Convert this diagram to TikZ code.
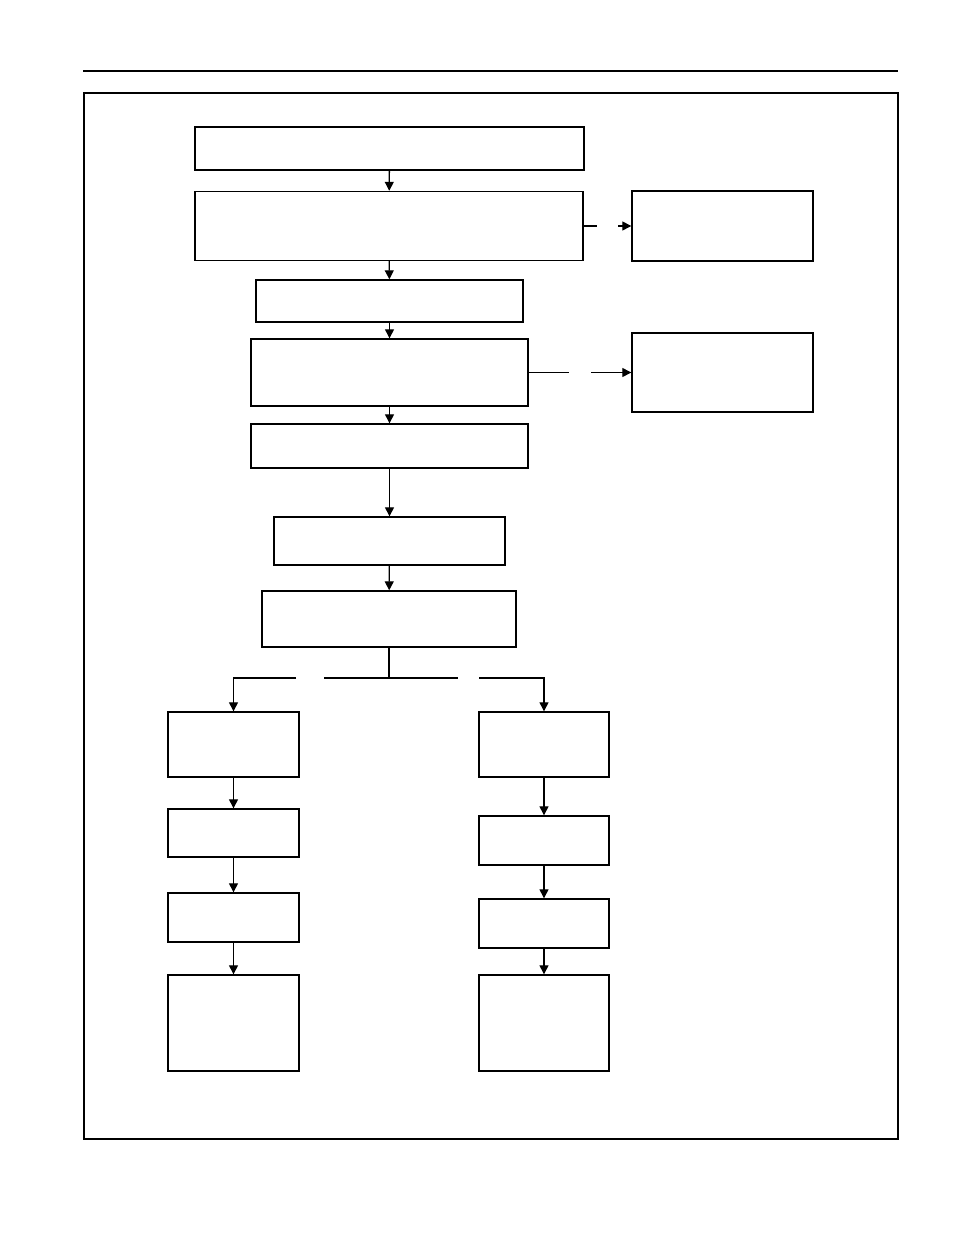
\documentclass[tikz,border=0pt]{standalone}
\usepackage{tikz}
\usetikzlibrary{arrows.meta}
\tikzset{
  box/.style  = {draw, line width=0.7pt, inner sep=0pt, fill=white},
  e/.style    = {-{Triangle[length=4.5pt,width=4.5pt]}, line width=0.65pt},
  ln/.style   = {line width=0.65pt}
}
\begin{document}
\begin{tikzpicture}[x=0.5pt, y=-0.5pt]
  \useasboundingbox (0,0) rectangle (954,1235);
  % page rule and frame
  \draw[line width=1.3pt] (83,71) -- (898,71);
  \draw[line width=1pt] (84,93) rectangle (898,1139);

  % main column
  \node[box, minimum width=194.5pt, minimum height=21.5pt] (start) at (389.5,148.5) {};
  \node[box, minimum width=194pt, minimum height=34.5pt] (check) at (389,226) {};
  \node[box, minimum width=133.5pt, minimum height=21pt] (prep) at (389.5,301) {};
  \node[box, minimum width=138.5pt, minimum height=33.5pt] (test) at (389.5,372.5) {};
  \node[box, minimum width=138.5pt, minimum height=22pt] (run) at (389.5,446) {};
  \node[box, minimum width=115.5pt, minimum height=24pt] (eval) at (389.5,541) {};
  \node[box, minimum width=127pt, minimum height=28pt] (split) at (389,619) {};

  % side boxes
  \node[box, minimum width=90.5pt, minimum height=35pt] (sideA) at (722.5,226) {};
  \node[box, minimum width=90.5pt, minimum height=39.5pt] (sideB) at (722.5,372.5) {};

  % left branch
  \node[box, minimum width=65.5pt, minimum height=32.5pt] (la) at (233.5,744.5) {};
  \node[box, minimum width=65.5pt, minimum height=24pt] (lb) at (233.5,833) {};
  \node[box, minimum width=65.5pt, minimum height=24.5pt] (lc) at (233.5,917.5) {};
  \node[box, minimum width=65.5pt, minimum height=48pt] (ld) at (233.5,1023) {};

  % right branch
  \node[box, minimum width=65pt, minimum height=32.5pt] (ra) at (544,744.5) {};
  \node[box, minimum width=65pt, minimum height=24.5pt] (rb) at (544,840.5) {};
  \node[box, minimum width=65pt, minimum height=24.5pt] (rc) at (544,923.5) {};
  \node[box, minimum width=65pt, minimum height=48pt] (rd) at (544,1023) {};

  % gaps in connectors
  \coordinate (ga1) at (597,226);
  \coordinate (ga2) at (618,226);
  \coordinate (gb1) at (569,372.5);
  \coordinate (gb2) at (591,372.5);
  \coordinate (fork) at (389,678);
  \coordinate (gl1) at (296,678);
  \coordinate (gl2) at (324,678);
  \coordinate (gr1) at (458,678);
  \coordinate (gr2) at (479,678);
  \coordinate (lt) at (233.5,678);
  \coordinate (rt) at (544,678);

  \draw[e] (start) -- (check);
  \draw[e] (check) -- (prep);
  \draw[e] (prep) -- (test);
  \draw[e] (test) -- (run);
  \draw[e] (run) -- (eval);
  \draw[e] (eval) -- (split);

  \draw[ln] (check.east) -- (ga1);
  \draw[e] (ga2) -- (sideA.west);
  \draw[ln] (test.east) -- (gb1);
  \draw[e] (gb2) -- (sideB.west);

  \draw[ln] (split.south) -- (fork);
  \draw[ln] (gl2) -- (gr1);
  \draw[e] (gl1) -- (lt) -- (la.north);
  \draw[e] (gr2) -- (rt) -- (ra.north);

  \draw[e] (la) -- (lb);
  \draw[e] (lb) -- (lc);
  \draw[e] (lc) -- (ld);
  \draw[e] (ra) -- (rb);
  \draw[e] (rb) -- (rc);
  \draw[e] (rc) -- (rd);
\end{tikzpicture}
\end{document}
